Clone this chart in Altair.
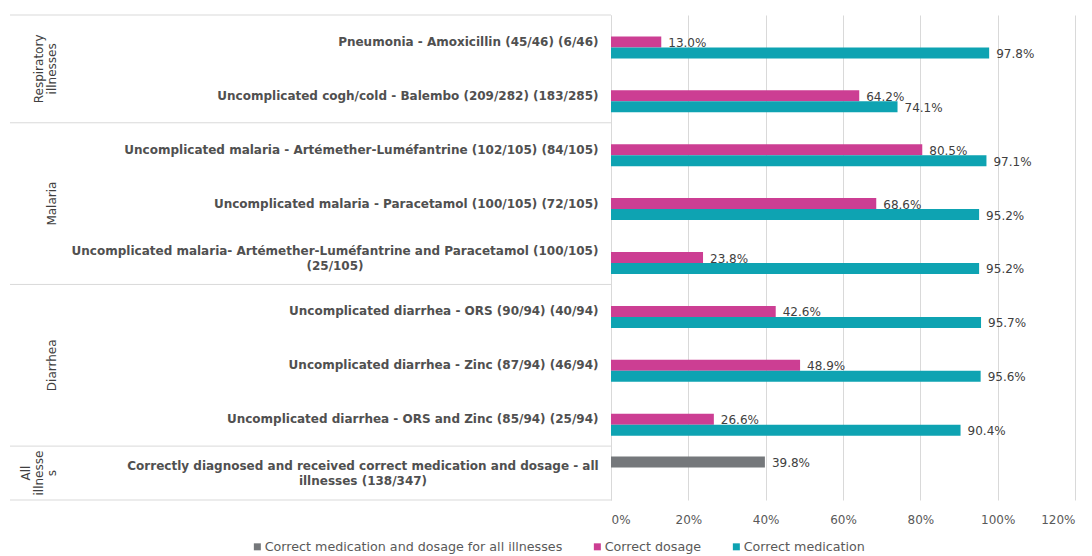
import json
import altair as alt
import pandas as pd

categories = [
    "Pneumonia - Amoxicillin (45/46) (6/46)",
    "Uncomplicated cogh/cold - Balembo (209/282) (183/285)",
    "Uncomplicated malaria - Artémether-Luméfantrine (102/105) (84/105)",
    "Uncomplicated malaria - Paracetamol (100/105) (72/105)",
    "Uncomplicated malaria- Artémether-Luméfantrine and Paracetamol (100/105) (25/105)",
    "Uncomplicated diarrhea - ORS (90/94) (40/94)",
    "Uncomplicated diarrhea - Zinc (87/94) (46/94)",
    "Uncomplicated diarrhea - ORS and Zinc (85/94) (25/94)",
    "Correctly diagnosed and received correct medication and dosage - all illnesses (138/347)",
]
dosage = [13.0, 64.2, 80.5, 68.6, 23.8, 42.6, 48.9, 26.6, None]
medication = [97.8, 74.1, 97.1, 95.2, 95.2, 95.7, 95.6, 90.4, None]
all_illnesses = [None, None, None, None, None, None, None, None, 39.8]

series_names = [
    "Correct medication and dosage for all illnesses",
    "Correct dosage",
    "Correct medication",
]
series_colors = ["#75787b", "#cc3e93", "#0ea3b2"]

group_names = ["Respiratory\nillnesses", "Malaria", "Diarrhea", "All\nillnesse\ns"]
group_first_rows = [categories[0], categories[2], categories[5], categories[8]]
x_ticks = [0, 20, 40, 60, 80, 100, 120]

# wrapped labels (line 1, line 2) and the half-width of line 1 for centring
wrapped = {
    categories[4]: ["Uncomplicated malaria- Artémether-Luméfantrine and Paracetamol (100/105)", "(25/105)"],
    categories[8]: ["Correctly diagnosed and received correct medication and dosage - all", "illnesses (138/347)"],
}
half_width = {categories[4]: 263.5, categories[8]: 235.5}

rows = []
for i, c in enumerate(categories):
    for s, vals in zip(series_names, [all_illnesses, dosage, medication]):
        v = vals[i]
        if v is not None:
            rows.append({"cat": c, "series": s, "value": v})
df = pd.DataFrame(rows)


def js(s):
    return json.dumps(s, ensure_ascii=False)


label_expr = "datum.label"
for k, (l1, l2) in wrapped.items():
    label_expr = f"datum.label == {js(k)} ? [{js(l1)}, {js(l2)}] : ({label_expr})"

wrap_test = " || ".join(f"datum.value == {js(k)}" for k in wrapped)
pad_cond = [{"test": f"datum.value == {js(k)}", "value": 13 + half_width[k]} for k in wrapped]

FONT = "DejaVu Sans"
TXT = "#404040"
GRID = "#d9d9d9"

y_enc = alt.Y(
    "cat:N",
    sort=categories,
    scale=alt.Scale(domain=categories, paddingInner=0, paddingOuter=0),
    axis=alt.Axis(
        title=None,
        labelAlign={"condition": {"test": wrap_test, "value": "center"}, "value": "right"},
        labelPadding={"condition": pad_cond, "value": 13},
        labelOffset={"condition": {"test": wrap_test, "value": -7}, "value": 0},
        labelBaseline="middle",
        labelLimit=1000,
        labelFont=FONT,
        labelFontSize=12,
        labelFontWeight="bold",
        labelColor="#505050",
        labelLineHeight=15,
        labelExpr=label_expr,
        ticks=False,
        domain=True,
        domainColor=GRID,
        grid=False,
    ),
)
yoff_enc = alt.YOffset(
    "series:N",
    sort=series_names,
    scale=alt.Scale(domain=series_names, paddingInner=0, paddingOuter=0.95),
)
x_enc = alt.X(
    "value:Q",
    scale=alt.Scale(domain=[0, 120], nice=False),
    axis=alt.Axis(
        title=None,
        values=x_ticks,
        labelExpr="datum.value + '%'",
        grid=True,
        gridColor=GRID,
        ticks=False,
        domain=False,
        labelFont=FONT,
        labelFontSize=12,
        labelColor="#595959",
        labelPadding=14,
    ),
)

base = alt.Chart(df)

bars = base.mark_bar().encode(
    x=x_enc,
    y=y_enc,
    yOffset=yoff_enc,
    color=alt.Color(
        "series:N",
        sort=series_names,
        scale=alt.Scale(domain=series_names, range=series_colors),
        legend=alt.Legend(
            title=None,
            orient="none",
            direction="horizontal",
            legendX=-360,
            legendY=525,
            symbolType="square",
            symbolSize=49,
            symbolStrokeWidth=0,
            labelFont=FONT,
            labelFontSize=12.7,
            labelColor="#595959",
            labelLimit=0,
            columnPadding=28,
            symbolOffset=0,
            labelOffset=1,
        ),
    ),
)

values_text = base.mark_text(
    align="left", baseline="middle", dx=7, dy=1, font=FONT, fontSize=12, color=TXT
).transform_calculate(
    label="format(datum.value, '.1f') + '%'"
).encode(
    x="value:Q",
    y=alt.Y("cat:N", sort=categories),
    yOffset=alt.YOffset("series:N", sort=series_names),
    text="label:N",
)

sep_df = pd.DataFrame({"cat": group_first_rows})
sep_top = alt.Chart(sep_df).mark_rule(color=GRID, strokeWidth=1).encode(
    y=alt.Y("cat:N", sort=categories, bandPosition=0),
    x=alt.value(-601),
    x2=alt.value(0),
)
sep_bottom = alt.Chart(pd.DataFrame({"cat": [categories[-1]]})).mark_rule(
    color=GRID, strokeWidth=1
).encode(
    y=alt.Y("cat:N", sort=categories, bandPosition=1),
    x=alt.value(-601),
    x2=alt.value(0),
)

grp_style = dict(
    angle=270, align="center", baseline="bottom", lineBreak="\n", lineHeight=13,
    font=FONT, fontSize=12, color=TXT,
)
grp_resp = alt.Chart(pd.DataFrame({"cat": [categories[0]], "g": [group_names[0]]})).mark_text(
    **grp_style
).encode(
    y=alt.Y("cat:N", sort=categories, bandPosition=1),
    x=alt.value(-565),
    text="g:N",
)
grp_mid = alt.Chart(
    pd.DataFrame({"cat": [categories[3], categories[6]], "g": group_names[1:3]})
).mark_text(**grp_style).encode(
    y=alt.Y("cat:N", sort=categories),
    x=alt.value(-552),
    text="g:N",
)
grp_all = alt.Chart(pd.DataFrame({"cat": [categories[8]], "g": [group_names[3]]})).mark_text(
    **grp_style
).encode(
    y=alt.Y("cat:N", sort=categories),
    x=alt.value(-578),
    text="g:N",
)

chart = (
    alt.layer(bars, values_text, sep_top, sep_bottom, grp_resp, grp_mid, grp_all)
    .properties(
        width=464,
        height=485,
        autosize=alt.AutoSizeParams(type="none"),
        padding={"left": 603, "top": 7, "right": 9, "bottom": 56},
        background="white",
    )
    .configure_view(stroke=None)
)

chart.save("out.html", embed_options={"renderer": "svg", "actions": False})
